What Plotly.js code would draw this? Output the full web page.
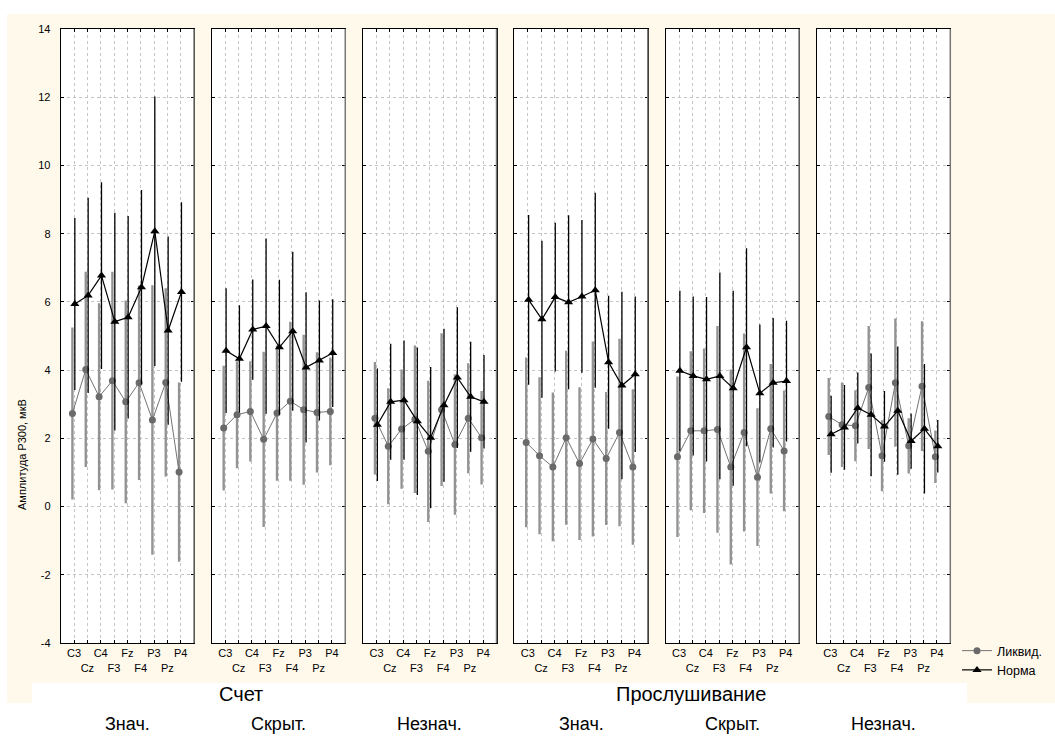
<!DOCTYPE html>
<html><head><meta charset="utf-8">
<script src="https://cdn.plot.ly/plotly-3.0.1.min.js"></script>
<style>html,body{margin:0;padding:0;background:#fff}</style>
</head><body>
<div id="chart" style="width:1055px;height:745px"></div>
<script>
// ---- data ----
const electrodes = ['C3','Cz','C4','F3','Fz','F4','P3','Pz','P4'];
const seriesNames = ['Ликвид.','Норма'];
const taskNames = ['Счет','Прослушивание'];
const conditionNames = ['Знач.','Скрыт.','Незнач.','Знач.','Скрыт.','Незнач.'];
const yTitle = 'Амплитуда Р300, мкВ';

// Счет – Знач.
const liqCountSig   = [2.73, 4.02, 3.22, 3.69, 3.07, 3.63, 2.54, 3.64, 1.01];
const normCountSig  = [5.94, 6.19, 6.77, 5.42, 5.55, 6.43, 8.07, 5.16, 6.29];
const ciCountSig    = [2.52, 2.86, 2.74, 3.19, 2.97, 2.85, 3.95, 2.76, 2.63];
// Счет – Скрыт.
const liqCountHid   = [2.30, 2.69, 2.79, 1.97, 2.74, 3.09, 2.84, 2.76, 2.79];
const normCountHid  = [4.57, 4.33, 5.19, 5.29, 4.67, 5.14, 4.08, 4.28, 4.50];
const ciCountHid    = [1.83, 1.57, 1.47, 2.57, 1.98, 2.33, 2.20, 1.76, 1.58];
// Счет – Незнач.
const liqCountNon   = [2.59, 1.77, 2.27, 2.56, 1.62, 2.84, 1.82, 2.59, 2.02];
const normCountNon  = [2.40, 3.07, 3.12, 2.50, 2.02, 2.97, 3.78, 3.22, 3.07];
const ciCountNon    = [1.65, 1.70, 1.75, 2.16, 2.07, 2.24, 2.06, 1.61, 1.37];
// Прослушивание – Знач.
const liqListenSig  = [1.88, 1.49, 1.16, 2.02, 1.26, 1.98, 1.41, 2.17, 1.16];
const normListenSig = [6.06, 5.49, 6.14, 5.99, 6.16, 6.34, 4.23, 3.55, 3.88];
const ciListenSig   = [2.49, 2.30, 2.18, 2.55, 2.24, 2.86, 1.95, 2.75, 2.28];
// Прослушивание – Скрыт.
const liqListenHid  = [1.46, 2.22, 2.22, 2.26, 1.16, 2.17, 0.86, 2.28, 1.63];
const normListenHid = [3.98, 3.83, 3.73, 3.83, 3.47, 4.67, 3.32, 3.63, 3.68];
const ciListenHid   = [2.35, 2.33, 2.41, 3.03, 2.86, 2.90, 2.02, 1.90, 1.77];
// Прослушивание – Незнач.
const liqListenNon  = [2.64, 2.40, 2.37, 3.49, 1.49, 3.63, 1.78, 3.53, 1.46];
const normListenNon = [2.12, 2.32, 2.89, 2.69, 2.35, 2.81, 1.92, 2.28, 1.77];
const ciListenNon   = [1.13, 1.24, 1.04, 1.80, 1.04, 1.88, 0.81, 1.90, 0.77];

const yTickVals   = [-4, -2, 0, 2, 4, 6, 8, 10, 12, 14];
const yTickLabels = ['-4', '-2', '0', '2', '4', '6', '8', '10', '12', '14'];

// ---- build ----
const panels = [
  {liq: liqCountSig,  norm: normCountSig,  ci: ciCountSig},
  {liq: liqCountHid,  norm: normCountHid,  ci: ciCountHid},
  {liq: liqCountNon,  norm: normCountNon,  ci: ciCountNon},
  {liq: liqListenSig, norm: normListenSig, ci: ciListenSig},
  {liq: liqListenHid, norm: normListenHid, ci: ciListenHid},
  {liq: liqListenNon, norm: normListenNon, ci: ciListenNon}
];

const W = 1055, H = 745;
const FONT = 'Liberation Sans, Arial, sans-serif';
const px = v => v / W;
const py = v => 1 - v / H;

const idx = electrodes.map((_, k) => k);
const tickText = electrodes.map((e, k) => k % 2 ? '<br>' + e : e);

const traces = [];
const layout = {
  width: W, height: H,
  margin: {l: 0, r: 0, t: 0, b: 0},
  paper_bgcolor: '#FFF9EC',
  plot_bgcolor: '#FFFFFF',
  font: {family: FONT, color: '#000', size: 11},
  showlegend: true,
  legend: {
    x: px(957), y: py(636), xanchor: 'left', yanchor: 'top',
    bgcolor: 'rgba(0,0,0,0)', font: {family: FONT, size: 12.5, color: '#000'},
    tracegroupgap: 0, itemwidth: 30
  },
  shapes: [],
  annotations: []
};

panels.forEach((p, i) => {
  const n = i + 1;
  const xa = 'x' + (n === 1 ? '' : n);
  const ya = 'y' + (n === 1 ? '' : n);
  const x0 = 60.7 + 151.26 * i;
  layout['xaxis' + (n === 1 ? '' : n)] = {
    domain: [px(x0), px(x0 + 133.3)],
    anchor: ya,
    range: [-1, 9],
    tickmode: 'array', tickvals: idx, ticktext: tickText,
    tickangle: 0,
    showgrid: true, gridcolor: '#c4c4c4', griddash: 'dot', gridwidth: 1,
    zeroline: false,
    showline: true, linecolor: '#000', linewidth: 1, mirror: 'allticks',
    ticks: 'inside', ticklen: 3, tickcolor: '#000',
    tickfont: {family: FONT, size: 11, color: '#000'},
    fixedrange: true
  };
  layout['yaxis' + (n === 1 ? '' : n)] = {
    domain: [py(643), py(29)],
    anchor: xa,
    range: [-4, 14],
    tickmode: 'array', tickvals: yTickVals, ticktext: yTickLabels,
    showticklabels: i === 0,
    ticklabelstandoff: 7,
    showgrid: true, gridcolor: '#c4c4c4', griddash: 'dot', gridwidth: 1,
    zeroline: false,
    showline: true, linecolor: '#000', linewidth: 1, mirror: 'allticks',
    ticks: 'inside', ticklen: 3, tickcolor: '#000',
    tickfont: {family: FONT, size: 11, color: '#000'},
    fixedrange: true
  };
  traces.push({
    type: 'scatter', mode: 'lines+markers', name: seriesNames[0],
    legendgroup: 'liq', showlegend: i === 0,
    xaxis: xa, yaxis: ya,
    x: idx.map(k => k - 0.12), y: p.liq,
    line: {color: '#737373', width: 1},
    marker: {symbol: 'circle', size: 7, color: '#6a6a6a'},
    error_y: {type: 'data', array: p.ci, visible: true, color: '#939393', thickness: 2.4, width: 0},
    hoverinfo: 'skip'
  });
  traces.push({
    type: 'scatter', mode: 'lines+markers', name: seriesNames[1],
    legendgroup: 'norm', showlegend: i === 0,
    xaxis: xa, yaxis: ya,
    x: idx.map(k => k + 0.06), y: p.norm,
    line: {color: '#000', width: 1.2},
    marker: {symbol: 'triangle-up', size: 8, color: '#000'},
    error_y: {type: 'data', array: p.ci, visible: true, color: '#000', thickness: 1.3, width: 0},
    hoverinfo: 'skip'
  });
  // darker shadow on the right frame edge of each panel
  layout.shapes.push({
    type: 'line', xref: xa + ' domain', yref: ya + ' domain',
    x0: 1, x1: 1, y0: 0, y1: 1, xshift: 1,
    line: {color: '#777', width: 1.5}, layer: 'above'
  });
  layout.annotations.push({
    xref: 'paper', yref: 'paper', x: px(x0 + 66.6), y: py(724),
    text: conditionNames[i], showarrow: false,
    font: {family: FONT, size: 18, color: '#000'}, xanchor: 'center', yanchor: 'middle'
  });
});

// white page areas around the cream chart area
layout.shapes.push(
  {type: 'rect', xref: 'paper', yref: 'paper', x0: 0, x1: 1, y0: py(14), y1: 1, fillcolor: '#fff', line: {width: 0}, layer: 'below'},
  {type: 'rect', xref: 'paper', yref: 'paper', x0: 0, x1: px(7), y0: 0, y1: 1, fillcolor: '#fff', line: {width: 0}, layer: 'below'},
  {type: 'rect', xref: 'paper', yref: 'paper', x0: 0, x1: 1, y0: 0, y1: py(703), fillcolor: '#fff', line: {width: 0}, layer: 'below'},
  {type: 'rect', xref: 'paper', yref: 'paper', x0: px(32), x1: px(967), y0: 0, y1: py(683), fillcolor: '#fff', line: {width: 0}, layer: 'below'}
);

// task titles and y title
layout.annotations.push(
  {xref: 'paper', yref: 'paper', x: px(241), y: py(694), text: taskNames[0], showarrow: false,
   font: {family: FONT, size: 20, color: '#000'}, xanchor: 'center', yanchor: 'middle'},
  {xref: 'paper', yref: 'paper', x: px(691), y: py(694), text: taskNames[1], showarrow: false,
   font: {family: FONT, size: 20, color: '#000'}, xanchor: 'center', yanchor: 'middle'},
  {xref: 'paper', yref: 'paper', x: px(22), y: py(455), text: yTitle, showarrow: false, textangle: -90,
   font: {family: FONT, size: 11, color: '#000'}, xanchor: 'center', yanchor: 'middle'}
);

Plotly.newPlot('chart', traces, layout, {staticPlot: true, displayModeBar: false});
</script>
</body></html>
